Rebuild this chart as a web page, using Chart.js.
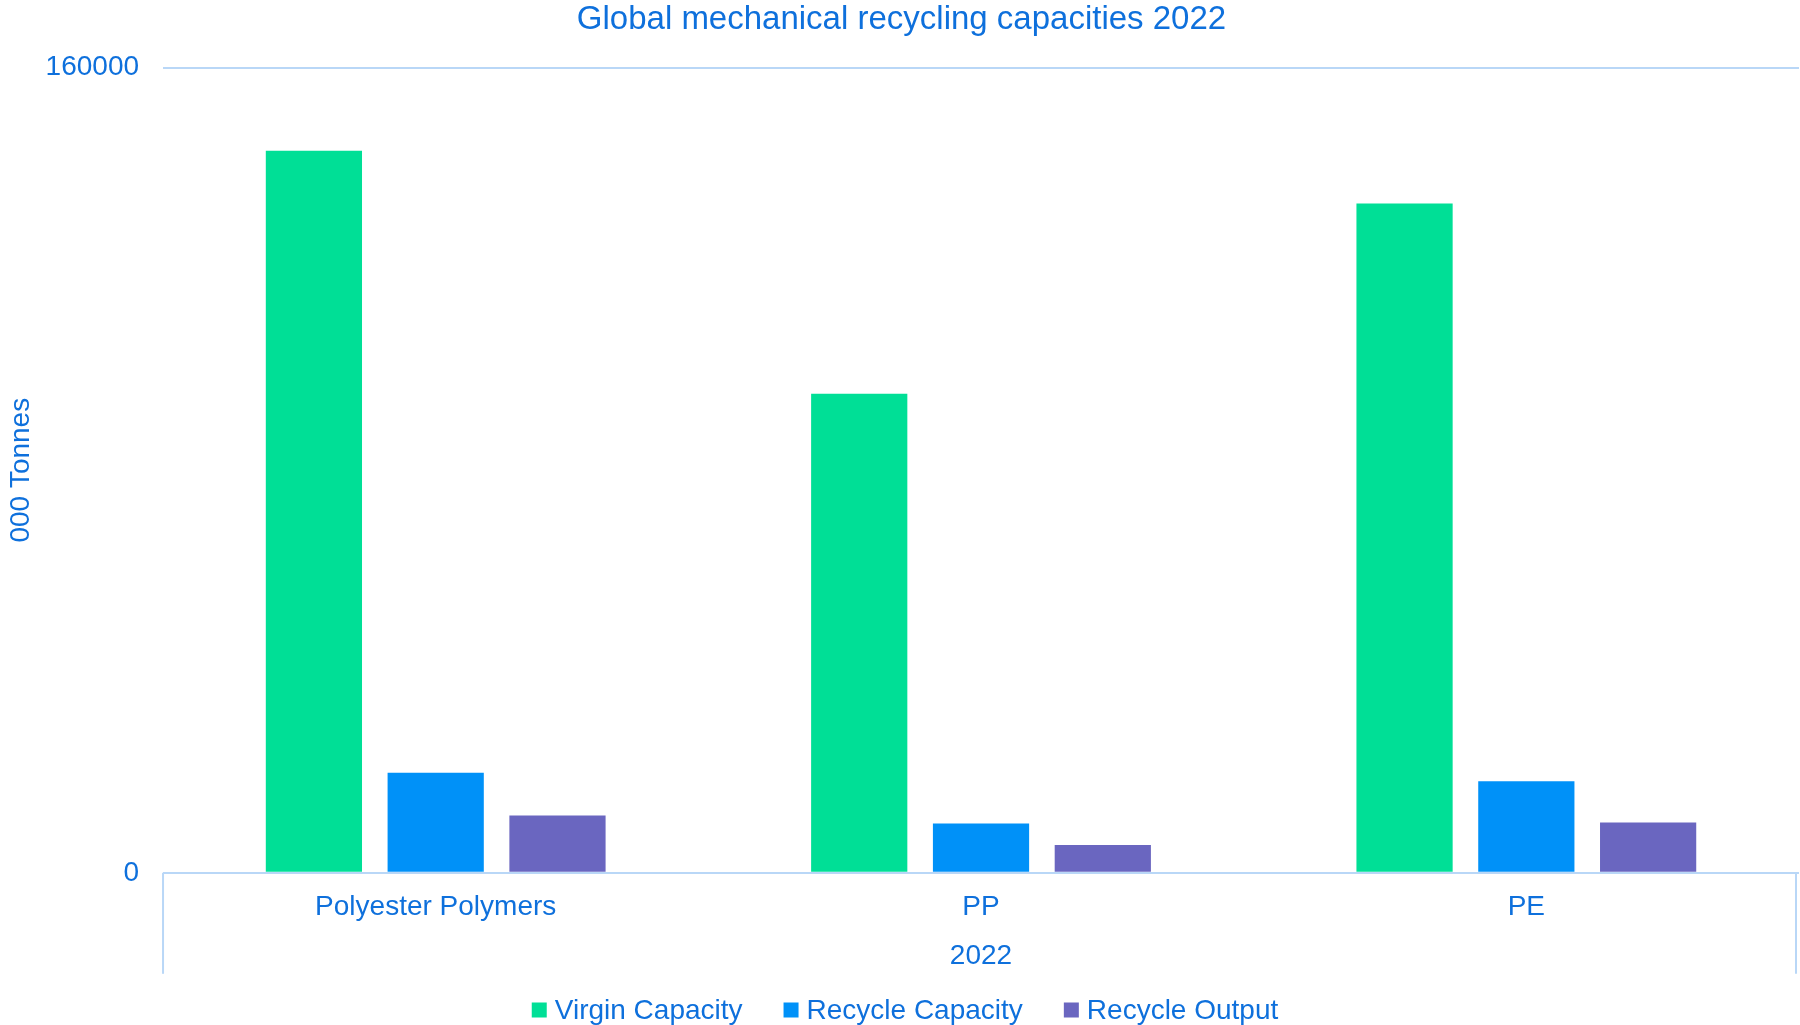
<!DOCTYPE html>
<html>
<head>
<meta charset="utf-8">
<title>Global mechanical recycling capacities 2022</title>
<script src="https://cdn.jsdelivr.net/npm/chart.js@4/dist/chart.umd.min.js"></script>
<style>
  html, body { margin: 0; padding: 0; background: #ffffff; }
  #wrap { width: 1800px; height: 1025px; }
</style>
</head>
<body>
<div id="wrap"><canvas id="capacityChart" width="1800" height="1025"></canvas></div>
<script>
// ================= DATA =================
const polymers = ["Polyester Polymers", "PP", "PE"];
const virginCapacity = [143500, 95200, 133000];
const recycleCapacity = [19900, 9800, 18200];
const recycleOutput = [11400, 5500, 10000];
const yearLabel = "2022";
const yTicks = [0, 160000];

// ================= STYLE =================
const TEXT_BLUE = "#0e70dc";
const LINE_BLUE = "#b9d7f7";
const FONT = "'Liberation Sans', Arial, sans-serif";
const LABEL_SIZE = 28;

Chart.defaults.font.family = FONT;
Chart.defaults.color = TEXT_BLUE;

// vertical dividers under the category axis (outer edges of the year group)
const groupDividers = {
  id: "groupDividers",
  afterDraw(chart) {
    const { ctx, chartArea } = chart;
    ctx.save();
    ctx.strokeStyle = LINE_BLUE;
    ctx.lineWidth = 2;
    [chartArea.left, chartArea.right - 3].forEach(x => {
      ctx.beginPath();
      ctx.moveTo(x, chartArea.bottom);
      ctx.lineTo(x, chartArea.bottom + 101);
      ctx.stroke();
    });
    ctx.restore();
  }
};

// legend row along the bottom edge, square swatch + series name
const bottomLegend = {
  id: "bottomLegend",
  afterDraw(chart) {
    const { ctx } = chart;
    const box = 15, gap = 8, spacing = 41;
    const y = 1010;
    ctx.save();
    ctx.font = `${LABEL_SIZE}px ${FONT}`;
    ctx.textBaseline = "middle";
    const items = chart.data.datasets.map(ds => ({
      text: ds.label,
      color: ds.backgroundColor,
      w: box + gap + ctx.measureText(ds.label).width
    }));
    const total = items.reduce((s, it) => s + it.w, 0) + spacing * (items.length - 1);
    let x = chart.width / 2 + 5 - total / 2;
    items.forEach(it => {
      ctx.fillStyle = it.color;
      ctx.fillRect(x, y - box / 2, box, box);
      ctx.fillStyle = TEXT_BLUE;
      ctx.fillText(it.text, x + box + gap, y + 1);
      x += it.w + spacing;
    });
    ctx.restore();
  }
};

// ================= CHART =================
const ctx = document.getElementById("capacityChart").getContext("2d");

new Chart(ctx, {
  type: "bar",
  data: {
    labels: polymers,
    datasets: [
      { label: "Virgin Capacity", data: virginCapacity, backgroundColor: "#00df96" },
      { label: "Recycle Capacity", data: recycleCapacity, backgroundColor: "#0091f8" },
      { label: "Recycle Output", data: recycleOutput, backgroundColor: "#6a66c0" }
    ]
  },
  options: {
    responsive: false,
    animation: false,
    layout: { autoPadding: false, padding: { left: 4, right: 1, top: 0, bottom: 52 } },
    datasets: {
      bar: { categoryPercentage: 0.67, barPercentage: 0.79, borderWidth: 0 }
    },
    plugins: {
      title: {
        display: true,
        text: "Global mechanical recycling capacities 2022",
        color: TEXT_BLUE,
        font: { size: 33, weight: "normal" },
        padding: { top: 0, bottom: 28 }
      },
      legend: { display: false },
      tooltip: { enabled: false }
    },
    scales: {
      x: {
        grid: { display: false },
        border: { display: false },
        ticks: { color: TEXT_BLUE, font: { size: LABEL_SIZE }, padding: 10 },
        title: {
          display: true,
          text: yearLabel,
          color: TEXT_BLUE,
          font: { size: LABEL_SIZE },
          padding: { top: 5, bottom: 0 }
        }
      },
      y: {
        min: yTicks[0],
        max: yTicks[yTicks.length - 1],
        afterBuildTicks(axis) {
          axis.ticks = yTicks.map(v => ({ value: v }));
        },
        grid: { color: LINE_BLUE, lineWidth: 2, drawTicks: false },
        border: { display: false },
        ticks: {
          color: TEXT_BLUE,
          font: { size: LABEL_SIZE },
          padding: 24,
          callback: v => String(v)
        },
        title: {
          display: true,
          text: "000 Tonnes",
          color: TEXT_BLUE,
          font: { size: LABEL_SIZE },
          padding: { top: 0, bottom: -16 }
        }
      }
    }
  },
  plugins: [groupDividers, bottomLegend]
});
</script>
</body>
</html>
